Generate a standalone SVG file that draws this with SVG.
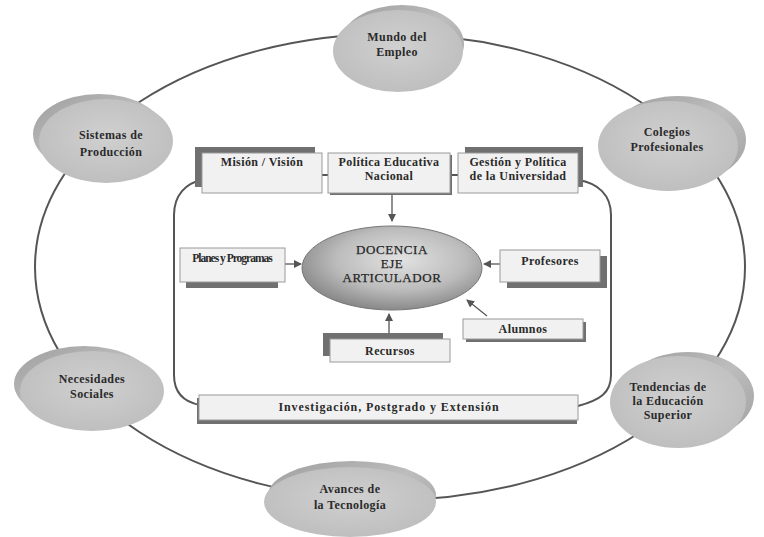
<svg xmlns="http://www.w3.org/2000/svg" width="764" height="537" viewBox="0 0 764 537">
<style>
.t{font-family:"Liberation Serif","DejaVu Serif",serif;font-weight:bold;font-size:12px;fill:#2a2a2a;text-anchor:middle;letter-spacing:0.4px}
.c{font-family:"Liberation Serif","DejaVu Serif",serif;font-size:13px;fill:#262626;text-anchor:middle;letter-spacing:0.6px;stroke:#262626;stroke-width:0.25}
.back{fill:url(#bg)}
.face{fill:url(#fg)}
.box{fill:#f1f1f1;stroke:#9a9a9a;stroke-width:1}
.sh{fill:#707070}
.ln{fill:none;stroke:#555;stroke-width:2}
.ar{fill:none;stroke:#555;stroke-width:1.3;marker-end:url(#ah)}
</style>
<defs>
<radialGradient id="fg" cx="50%" cy="45%" r="60%">
<stop offset="0" stop-color="#d0d0d0"/><stop offset="1" stop-color="#bdbdbd"/>
</radialGradient>
<linearGradient id="bg" x1="0" y1="0" x2="1" y2="1">
<stop offset="0" stop-color="#9e9e9e"/><stop offset="0.5" stop-color="#bdbdbd"/><stop offset="1" stop-color="#a0a0a0"/>
</linearGradient>
<radialGradient id="cg" cx="55%" cy="40%" r="60%">
<stop offset="0" stop-color="#e2e2e2"/><stop offset="0.6" stop-color="#bcbcbc"/><stop offset="1" stop-color="#8a8a8a"/>
</radialGradient>
<marker id="ah" markerWidth="8" markerHeight="8" refX="7" refY="4" orient="auto" markerUnits="userSpaceOnUse">
<path d="M0,0 L8,4 L0,8 Z" fill="#555"/>
</marker>
</defs>
<rect width="764" height="537" fill="#fff"/>
<g id="connectors">
<ellipse cx="390" cy="267" rx="355" ry="233" class="ln"/>
<path class="ln" d="M202 180 C186 183 174 195 174 215 L174 375 C174 393 184 402 200 405"/>
<path class="ln" d="M578 180 C598 183 611 195 611 215 L611 375 C611 393 600 400 578 406"/>
<line x1="322" y1="175" x2="329" y2="175" stroke="#555" stroke-width="2"/>
<line x1="450" y1="175" x2="458" y2="175" stroke="#555" stroke-width="2"/>
<line class="ar" x1="392" y1="194" x2="392" y2="221"/>
<line class="ar" x1="285" y1="264" x2="301" y2="264"/>
<line class="ar" x1="500" y1="264" x2="484" y2="264"/>
<line class="ar" x1="487" y1="316" x2="467" y2="300"/>
<line class="ar" x1="389" y1="339" x2="389" y2="314"/>
</g>
<g id="mundo">
<ellipse class="back" cx="402" cy="44" rx="62" ry="39"/>
<ellipse class="face" cx="398" cy="51" rx="65" ry="41"/>
<text class="t" x="397" y="41">Mundo del</text>
<text class="t" x="397" y="56">Empleo</text>
</g>
<g id="sistemas">
<ellipse class="back" cx="99" cy="134" rx="66" ry="40"/>
<ellipse class="face" cx="106" cy="141" rx="67" ry="42"/>
<text class="t" x="111" y="139">Sistemas de</text>
<text class="t" x="111" y="156">Producción</text>
</g>
<g id="colegios">
<ellipse class="back" cx="678" cy="140" rx="68" ry="44"/>
<ellipse class="face" cx="668" cy="146" rx="70" ry="45"/>
<text class="t" x="667" y="136">Colegios</text>
<text class="t" x="667" y="151">Profesionales</text>
</g>
<g id="necesidades">
<ellipse class="back" cx="84" cy="384" rx="70" ry="38"/>
<ellipse class="face" cx="92" cy="391" rx="72" ry="40"/>
<text class="t" x="92" y="383">Necesidades</text>
<text class="t" x="92" y="398">Sociales</text>
</g>
<g id="tendencias">
<ellipse class="back" cx="688" cy="396" rx="66" ry="44"/>
<ellipse class="face" cx="678" cy="402" rx="68" ry="46"/>
<text class="t" x="668" y="391">Tendencias de</text>
<text class="t" x="668" y="405">la Educación</text>
<text class="t" x="668" y="419">Superior</text>
</g>
<g id="avances">
<ellipse class="back" cx="352" cy="495" rx="84" ry="34"/>
<ellipse class="face" cx="350" cy="502" rx="86" ry="35"/>
<text class="t" x="350" y="493">Avances de</text>
<text class="t" x="350" y="509">la Tecnología</text>
</g>
<g id="mision">
<rect class="sh" x="195" y="147" width="120" height="40"/>
<rect class="box" x="202" y="153" width="120" height="40"/>
<text class="t" x="262" y="166">Misión / Visión</text>
</g>
<g id="politica">
<rect class="sh" x="330" y="155" width="122" height="40"/>
<rect class="box" x="328" y="153" width="122" height="40"/>
<text class="t" x="389" y="166">Política Educativa</text>
<text class="t" x="389" y="180">Nacional</text>
</g>
<g id="gestion">
<rect class="sh" x="465" y="147" width="118" height="40"/>
<rect class="box" x="458" y="153" width="120" height="40"/>
<text class="t" x="518" y="166">Gestión y  Política</text>
<text class="t" x="518" y="180">de la  Universidad</text>
</g>
<g id="docencia">
<ellipse cx="392" cy="268" rx="90" ry="42" fill="url(#cg)" stroke="#777" stroke-width="1"/>
<text class="c" x="392" y="254">DOCENCIA</text>
<text class="c" x="392" y="268">EJE</text>
<text class="c" x="392" y="282">ARTICULADOR</text>
</g>
<g id="planes">
<rect class="sh" x="186" y="254" width="92" height="34"/>
<rect class="box" x="180" y="248" width="105" height="34"/>
<text class="t" x="232" y="262" style="letter-spacing:-1px;font-size:11.5px">Planes y Programas</text>
</g>
<g id="profesores">
<rect class="sh" x="507" y="256" width="100" height="32"/>
<rect class="box" x="500" y="250" width="100" height="32"/>
<text class="t" x="550" y="265">Profesores</text>
</g>
<g id="alumnos">
<rect class="sh" x="466" y="322" width="120" height="20"/>
<rect class="box" x="463" y="319" width="120" height="20"/>
<text class="t" x="523" y="333">Alumnos</text>
</g>
<g id="recursos">
<rect class="sh" x="323" y="333" width="120" height="23"/>
<rect class="box" x="330" y="339" width="120" height="23"/>
<text class="t" x="390" y="355">Recursos</text>
</g>
<g id="investigacion">
<rect class="sh" x="197" y="398" width="380" height="26"/>
<rect class="box" x="199" y="395" width="379" height="25"/>
<text class="t" x="389" y="411" style="letter-spacing:0.9px">Investigación, Postgrado y Extensión</text>
</g>
</svg>
